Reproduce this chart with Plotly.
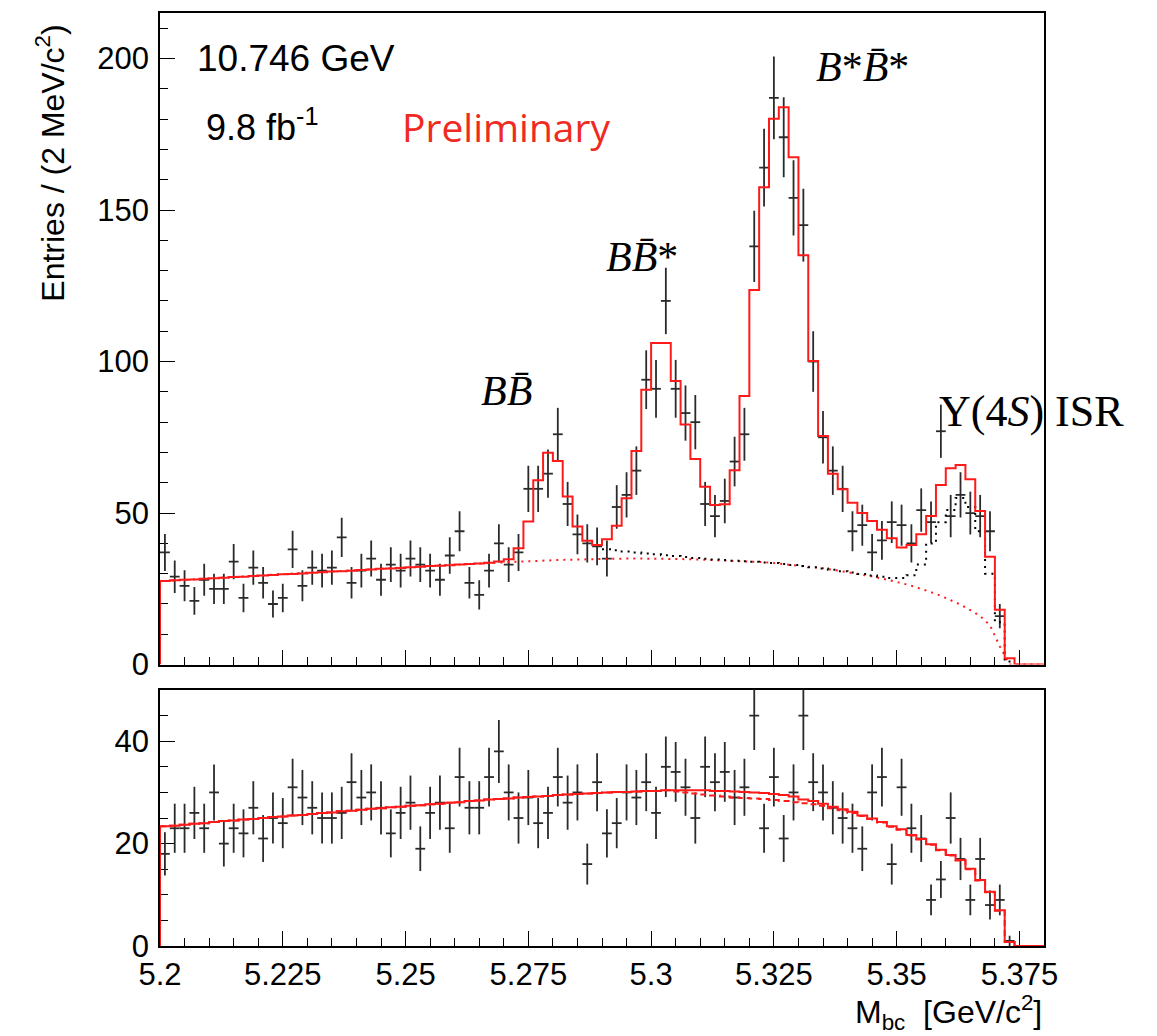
import numpy as np
import plotly.graph_objects as go

# ---------------- data ----------------
x_lo = 5.2
bin_w = 0.002
n_bins = 90

x_tick_labels = ["5.2", "5.225", "5.25", "5.275", "5.3", "5.325", "5.35", "5.375"]
y_top_tick_labels = ["0", "50", "100", "150", "200"]
y_bot_tick_labels = ["0", "20", "40"]

# signal region (top panel) data counts per 2 MeV bin
top_counts = [37, 29, 26, 21, 28, 25, 25, 34, 22, 32,
              27, 20, 22, 38, 26, 32, 31, 32, 42, 27,
              31, 35, 28, 33, 31, 35, 33, 31, 28, 36,
              44, 27, 23, 31, 40, 33, 37, 58, 58, 63,
              76, 53, 43, 40, 39, 35, 52, 56, 64, 94,
              91, 120, 91, 83, 80, 53, 49, 54, 67, 76,
              138, 164, 187, 174, 154, 145, 100, 75, 64, 58,
              44, 46, 37, 41, 47, 46, 40, 51, 47, 77,
              49, 56, 50, 49, 44, 16, 0, 0, 0, 0]

# total fit (solid red histogram)
top_fit = [27.6, 27.8, 28.0, 28.1, 28.3, 28.5, 28.7, 28.9, 29.0, 29.2,
           29.4, 29.6, 29.8, 29.9, 30.1, 30.3, 30.5, 30.7, 30.8, 31.0,
           31.2, 31.4, 31.6, 31.7, 31.9, 32.1, 32.3, 32.5, 32.6, 32.8,
           33.0, 33.2, 33.4, 33.6, 34.0, 34.8, 38.4, 47.2, 60.8, 69.9,
           67.2, 55.5, 45.6, 40.9, 39.5, 41.4, 45.8, 54.9, 70.5, 90.7,
           106.1, 106.1, 93.6, 79.2, 67.8, 58.7, 52.7, 52.9, 64.1, 88.6,
           123.6, 157.5, 180.1, 183.9, 167.4, 135.1, 100.2, 75.4, 63.0, 57.9,
           53.4, 50.0, 47.4, 44.5, 41.7, 38.6, 39.5, 43.0, 49.0, 59.3,
           64.8, 65.9, 61.2, 50.7, 35.6, 18.1, 2.1, 0.0, 0.0, 0.0]

# continuum background (red dotted), at bin centres
top_bkg = [27.6, 27.8, 28.0, 28.2, 28.4, 28.6, 28.8, 28.9, 29.1, 29.3,
           29.5, 29.7, 29.9, 30.0, 30.2, 30.4, 30.6, 30.8, 30.9, 31.1,
           31.3, 31.5, 31.7, 31.8, 32.0, 32.2, 32.4, 32.5, 32.7, 32.9,
           33.0, 33.2, 33.4, 33.5, 33.7, 33.8, 34.0, 34.1, 34.3, 34.4,
           34.5, 34.6, 34.7, 34.8, 34.9, 35.0, 35.0, 35.0, 35.0, 35.0,
           35.0, 34.9, 34.9, 34.8, 34.7, 34.6, 34.5, 34.4, 34.3, 34.2,
           34.0, 33.8, 33.5, 33.2, 32.9, 32.6, 32.2, 31.8, 31.3, 30.8,
           30.3, 29.7, 29.1, 28.4, 27.7, 26.9, 26.0, 25.0, 23.9, 22.7,
           21.3, 19.8, 18.0, 16.0, 13.0, 6.0, 0.0, 0.0, 0.0, 0.0]

# background + Y(4S) ISR component (black dotted histogram), from bin 45
isr_first_bin = 45
top_isr = [38.1, 37.7, 37.3, 37.0, 36.7, 36.4, 36.1, 35.8, 35.5, 35.2,
           34.9, 34.7, 34.5, 34.3, 34.1, 33.9, 33.7, 33.5, 33.2, 32.9,
           32.5, 32.1, 31.7, 31.3, 30.8, 30.4, 29.9, 29.4, 29.0, 28.6,
           28.6, 29.5, 33.0, 40.0, 47.0, 51.0, 55.0, 52.0, 44.0, 30.0,
           14.0, 1.0]

# sideband (bottom panel) data counts
bot_counts = [18, 23, 23, 26, 23, 30, 20, 23, 22, 27,
              21, 25, 24, 31, 29, 27, 25, 25, 26, 32,
              29, 30, 27, 22, 26, 28, 19, 26, 28, 23,
              33, 27, 27, 33, 38, 30, 25, 29, 24, 26,
              33, 28, 30, 16, 32, 22, 24, 30, 29, 32,
              26, 35, 34, 31, 25, 35, 32, 34, 29, 31,
              45, 23, 33, 21, 30, 45, 32, 30, 27, 25,
              23, 19, 30, 33, 16, 31, 23, 21, 9, 13,
              25, 17, 9, 17, 8, 9, 1, 0, 0, 0]

bot_fit = [23.4, 23.5, 23.7, 23.9, 24.0, 24.2, 24.4, 24.5, 24.7, 24.8,
           25.0, 25.2, 25.3, 25.5, 25.6, 25.8, 26.0, 26.1, 26.3, 26.4,
           26.6, 26.8, 26.9, 27.1, 27.2, 27.4, 27.5, 27.7, 27.8, 28.0,
           28.1, 28.3, 28.4, 28.6, 28.7, 28.8, 29.0, 29.1, 29.2, 29.3,
           29.5, 29.6, 29.7, 29.8, 29.9, 30.0, 30.1, 30.1, 30.2, 30.3,
           30.3, 30.4, 30.4, 30.4, 30.4, 30.4, 30.3, 30.3, 30.2, 30.1,
           30.0, 29.9, 29.7, 29.5, 29.2, 28.6, 28.3, 27.8, 27.2, 26.7,
           26.2, 25.5, 24.9, 24.2, 23.4, 22.8, 21.7, 20.9, 19.9, 18.8,
           17.8, 16.8, 15.1, 12.9, 10.6, 7.0, 0.8, 0.0, 0.0, 0.0]

bot_bkg = [23.4, 23.5, 23.7, 23.9, 24.0, 24.2, 24.4, 24.5, 24.7, 24.8,
           25.0, 25.2, 25.3, 25.5, 25.6, 25.8, 26.0, 26.1, 26.3, 26.4,
           26.6, 26.8, 26.9, 27.1, 27.2, 27.4, 27.5, 27.7, 27.8, 28.0,
           28.1, 28.3, 28.4, 28.6, 28.7, 28.8, 29.0, 29.1, 29.2, 29.3,
           29.5, 29.6, 29.7, 29.8, 29.9, 30.0, 30.1, 30.1, 30.2, 30.3,
           30.3, 30.4, 30.2, 30.0, 29.8, 29.6, 29.4, 29.2, 29.0, 28.9,
           28.8, 28.7, 28.5, 28.3, 28.1, 27.9, 27.7, 27.4, 26.9, 26.5,
           26.0, 25.4, 24.8, 24.1, 23.3, 22.7, 21.6, 20.8, 19.8, 18.7,
           17.7, 16.7, 15.0, 12.8, 10.5, 6.9, 0.8, 0.0, 0.0, 0.0]

# ---------------- helpers ----------------
edges = x_lo + bin_w * np.arange(n_bins + 1)
centers = edges[:-1] + bin_w / 2

RED = "#ff1a1a"
DATA_C = "#2a2a2a"


def step_xy(vals, first=0, from_zero=False):
    e = list(edges[first:first + len(vals) + 1])
    ys = list(vals) + [vals[-1]]
    if from_zero:
        e = [e[0]] + e
        ys = [0.0] + ys
    return e, ys


def data_trace(counts, xa, ya):
    c = np.array(counts, dtype=float)
    m = c > 0
    return go.Scatter(
        x=centers[m], y=c[m], mode="markers", xaxis=xa, yaxis=ya,
        marker=dict(size=1, color=DATA_C),
        error_y=dict(type="data", array=np.sqrt(c[m]), width=0,
                     thickness=1.8, color=DATA_C),
        error_x=dict(type="constant", value=bin_w / 2, width=0,
                     thickness=1.8, color=DATA_C),
        hoverinfo="skip")


fig = go.Figure()

# ---- top panel ----
fig.add_trace(data_trace(top_counts, "x", "y"))
bx = list(centers[:len(top_bkg)])
fig.add_trace(go.Scatter(x=bx, y=top_bkg, mode="lines", xaxis="x", yaxis="y",
                         line=dict(color=RED, width=2, dash="2px,5px")))
ix, iy = step_xy(top_isr, first=isr_first_bin)
fig.add_trace(go.Scatter(x=ix, y=iy, mode="lines", xaxis="x", yaxis="y",
                         line=dict(color="black", width=2, dash="2px,5px", shape="hv")))
fx, fy = step_xy(top_fit, from_zero=True)
fig.add_trace(go.Scatter(x=fx, y=fy, mode="lines", xaxis="x", yaxis="y",
                         line=dict(color=RED, width=2, shape="hv")))

# ---- bottom panel ----
fig.add_trace(data_trace(bot_counts, "x2", "y2"))
dx, dy = step_xy(bot_bkg, from_zero=True)
fig.add_trace(go.Scatter(x=dx, y=dy, mode="lines", xaxis="x2", yaxis="y2",
                         line=dict(color=RED, width=2, dash="6px,4px", shape="hv")))
sx, sy = step_xy(bot_fit, from_zero=True)
fig.add_trace(go.Scatter(x=sx, y=sy, mode="lines", xaxis="x2", yaxis="y2",
                         line=dict(color=RED, width=2, shape="hv")))

# ---------------- layout ----------------
SANS = "Liberation Sans"
SERIF = "Liberation Serif"
TICKFONT = dict(family=SANS, size=31, color="black")
x_tickvals = [float(t) for t in x_tick_labels]

common_x = dict(range=[5.2, 5.38], showgrid=False, zeroline=False,
                showline=True, mirror=True, linecolor="black", linewidth=1.5,
                ticks="inside", ticklen=15, tickwidth=1.3, tickcolor="black",
                tickvals=x_tickvals, ticktext=x_tick_labels,
                minor=dict(ticks="inside", ticklen=8, tickwidth=1.3,
                           tickcolor="black", dtick=0.005, tick0=5.2),
                layer="below traces", tickfont=TICKFONT)
common_y = dict(showgrid=False, zeroline=False, showline=True, mirror=True,
                linecolor="black", linewidth=1.5, ticks="inside", ticklen=15,
                tickwidth=1.3, tickcolor="black", layer="below traces",
                tickfont=TICKFONT, ticklabelstandoff=3)

fig.update_layout(
    width=1157, height=1036,
    margin=dict(l=160, r=113, t=11, b=90),
    plot_bgcolor="white", paper_bgcolor="white", showlegend=False,
    xaxis=dict(common_x, anchor="y", domain=[0, 1], showticklabels=False, matches="x2"),
    xaxis2=dict(common_x, anchor="y2", domain=[0, 1], showticklabels=True),
    yaxis=dict(common_y, anchor="x", domain=[0.3016, 1.0], range=[0, 215],
               tickvals=[float(t) for t in y_top_tick_labels], ticktext=y_top_tick_labels,
               minor=dict(ticks="inside", ticklen=8, tickwidth=1.3, tickcolor="black",
                          dtick=10, tick0=0)),
    yaxis2=dict(common_y, anchor="x2", domain=[0.0, 0.2749], range=[0, 50.1],
                tickvals=[float(t) for t in y_bot_tick_labels], ticktext=y_bot_tick_labels,
                minor=dict(ticks="inside", ticklen=8, tickwidth=1.3, tickcolor="black",
                           dtick=5, tick0=0)),
)

annots = [
    dict(text="10.746 GeV", x=0.040, y=0.951, xanchor="left", yanchor="middle",
         font=dict(family=SANS, size=37, color="black")),
    dict(text="9.8 fb<sup>-1</sup>", x=0.050, y=0.880, xanchor="left", yanchor="middle",
         font=dict(family=SANS, size=36, color="black")),
    dict(text="Preliminary", x=0.2715, y=0.878, xanchor="left", yanchor="middle",
         font=dict(family="Open Sans", size=39, color="#f02a22")),
    dict(text="<i>B</i>*<i>B\u0304</i>*", x=0.795, y=0.942, xanchor="center", yanchor="middle",
         font=dict(family=SERIF, size=42, color="black")),
    dict(text="<i>BB\u0304</i>*", x=0.5458, y=0.739, xanchor="center", yanchor="middle",
         font=dict(family=SERIF, size=42, color="black")),
    dict(text="<i>BB\u0304</i>", x=0.3925, y=0.5952, xanchor="center", yanchor="middle",
         font=dict(family=SERIF, size=42, color="black")),
    dict(text="\u03a5(4<i>S</i>) ISR", x=0.879, y=0.5727, xanchor="left", yanchor="middle",
         font=dict(family=SERIF, size=44, color="black")),
    dict(text="Entries / (2 MeV/c<sup>2</sup>)", x=-0.1244, y=0.8385, textangle=-90,
         xanchor="center", yanchor="middle",
         font=dict(family=SANS, size=32, color="black")),
    dict(text="M<sub>bc</sub>&nbsp;&nbsp;[GeV/c<sup>2</sup>]", x=1.0, y=-0.0717,
         xanchor="right", yanchor="middle",
         font=dict(family=SANS, size=32, color="black")),
]
for a in annots:
    a.update(xref="paper", yref="paper", showarrow=False)
fig.update_layout(annotations=annots)

fig.write_html("out.html")
